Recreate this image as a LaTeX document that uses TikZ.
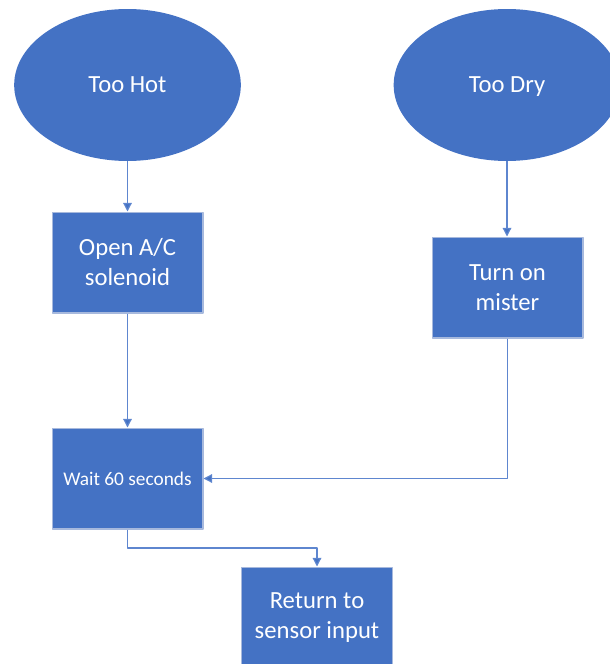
\documentclass[tikz,border=0pt]{standalone}
\usepackage{fontspec}
\setmainfont{Carlito}
\usetikzlibrary{shapes.geometric,arrows.meta}
\definecolor{boxblue}{HTML}{4472C4}
\definecolor{rimblue}{HTML}{A7B9DD}
\definecolor{lineblue}{HTML}{5E86CF}
\begin{document}
\begin{tikzpicture}[x=.75pt, y=-.75pt, line join=round,
	state/.style={ellipse, fill=boxblue, text=white, inner sep=0pt, text depth=0pt, minimum width=170pt, minimum height=114pt, font=\fontsize{18.5}{22.5}\selectfont},
	task/.style={rectangle, fill=boxblue, draw=rimblue, line width=1pt, text=white, align=center, inner sep=0pt, minimum width=113pt, minimum height=75.5pt, font=\fontsize{18.5}{22.5}\selectfont},
	flow/.style={draw=lineblue, line width=.9pt, -{Triangle[length=6.5pt,width=6.5pt,fill=boxblue]}}]
	\useasboundingbox (0,0) rectangle (610,664);
	\clip (0,0) rectangle (610,664); % right ellipse and last box run off the page
	\node[state] (hot) at (127.5,85) {Too Hot};
	\node[state] (dry) at (507,85) {Too Dry};
	\node[task] (open) at (127.5,262.5) {Open A/C\\solenoid};
	\node[task] (mister) at (507.5,287.5) {Turn on\\mister};
	\node[task, font=\fontsize{14.5}{17}\selectfont] (wait) at (127.5,478.5) {Wait 60 seconds};
	\node[task] (return) at (317,617.5) {Return to\\sensor input};
	\draw[flow] (hot.south)--(open.north);
	\draw[flow] (dry.south)--(dry.south |- mister.north);
	\draw[flow] (open.south)--(wait.north);
	\draw[flow] (mister.south) |- (wait.east);
	\draw[flow] (wait.south)--++(0,18.5) -| (return.north);
\end{tikzpicture}
\end{document}
